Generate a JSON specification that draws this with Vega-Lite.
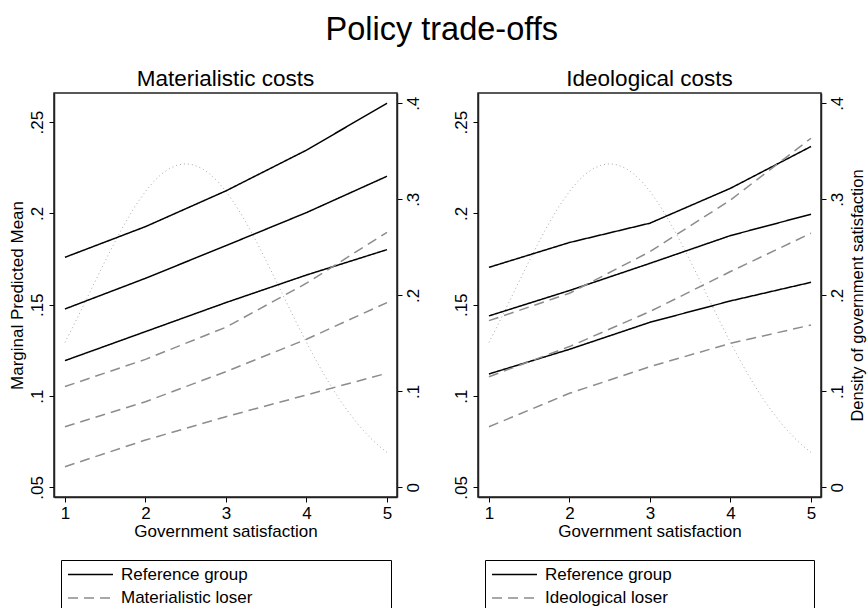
{
  "$schema": "https://vega.github.io/schema/vega-lite/v6.json",
  "padding": {"left": 7, "top": 14, "right": 0, "bottom": 0},
  "background": "white",
  "title": {"text": "Policy trade-offs", "fontSize": 32.5, "fontWeight": "normal", "font": "Liberation Sans", "color": "black", "anchor": "middle", "offset": 20, "dx": 5},
  "datasets": {
    "mat": [
      {"x": 1, "y": 0.176, "group": "Reference group", "bound": "upper"},
      {"x": 2, "y": 0.1928, "group": "Reference group", "bound": "upper"},
      {"x": 3, "y": 0.2124, "group": "Reference group", "bound": "upper"},
      {"x": 4, "y": 0.2347, "group": "Reference group", "bound": "upper"},
      {"x": 5, "y": 0.2604, "group": "Reference group", "bound": "upper"},
      {"x": 1, "y": 0.1477, "group": "Reference group", "bound": "mid"},
      {"x": 2, "y": 0.1645, "group": "Reference group", "bound": "mid"},
      {"x": 3, "y": 0.1824, "group": "Reference group", "bound": "mid"},
      {"x": 4, "y": 0.2005, "group": "Reference group", "bound": "mid"},
      {"x": 5, "y": 0.2204, "group": "Reference group", "bound": "mid"},
      {"x": 1, "y": 0.1194, "group": "Reference group", "bound": "lower"},
      {"x": 2, "y": 0.1353, "group": "Reference group", "bound": "lower"},
      {"x": 3, "y": 0.1512, "group": "Reference group", "bound": "lower"},
      {"x": 4, "y": 0.1663, "group": "Reference group", "bound": "lower"},
      {"x": 5, "y": 0.1802, "group": "Reference group", "bound": "lower"},
      {"x": 1, "y": 0.1052, "group": "Materialistic loser", "bound": "upper"},
      {"x": 2, "y": 0.1201, "group": "Materialistic loser", "bound": "upper"},
      {"x": 3, "y": 0.1377, "group": "Materialistic loser", "bound": "upper"},
      {"x": 4, "y": 0.1618, "group": "Materialistic loser", "bound": "upper"},
      {"x": 5, "y": 0.1897, "group": "Materialistic loser", "bound": "upper"},
      {"x": 1, "y": 0.0832, "group": "Materialistic loser", "bound": "mid"},
      {"x": 2, "y": 0.0969, "group": "Materialistic loser", "bound": "mid"},
      {"x": 3, "y": 0.1134, "group": "Materialistic loser", "bound": "mid"},
      {"x": 4, "y": 0.1311, "group": "Materialistic loser", "bound": "mid"},
      {"x": 5, "y": 0.1512, "group": "Materialistic loser", "bound": "mid"},
      {"x": 1, "y": 0.0613, "group": "Materialistic loser", "bound": "lower"},
      {"x": 2, "y": 0.0759, "group": "Materialistic loser", "bound": "lower"},
      {"x": 3, "y": 0.0887, "group": "Materialistic loser", "bound": "lower"},
      {"x": 4, "y": 0.1006, "group": "Materialistic loser", "bound": "lower"},
      {"x": 5, "y": 0.1125, "group": "Materialistic loser", "bound": "lower"}
    ],
    "ideo": [
      {"x": 1, "y": 0.1705, "group": "Reference group", "bound": "upper"},
      {"x": 2, "y": 0.1841, "group": "Reference group", "bound": "upper"},
      {"x": 3, "y": 0.1947, "group": "Reference group", "bound": "upper"},
      {"x": 4, "y": 0.2138, "group": "Reference group", "bound": "upper"},
      {"x": 5, "y": 0.2367, "group": "Reference group", "bound": "upper"},
      {"x": 1, "y": 0.1439, "group": "Reference group", "bound": "mid"},
      {"x": 2, "y": 0.1578, "group": "Reference group", "bound": "mid"},
      {"x": 3, "y": 0.1727, "group": "Reference group", "bound": "mid"},
      {"x": 4, "y": 0.1879, "group": "Reference group", "bound": "mid"},
      {"x": 5, "y": 0.1996, "group": "Reference group", "bound": "mid"},
      {"x": 1, "y": 0.1121, "group": "Reference group", "bound": "lower"},
      {"x": 2, "y": 0.1256, "group": "Reference group", "bound": "lower"},
      {"x": 3, "y": 0.1404, "group": "Reference group", "bound": "lower"},
      {"x": 4, "y": 0.1521, "group": "Reference group", "bound": "lower"},
      {"x": 5, "y": 0.1623, "group": "Reference group", "bound": "lower"},
      {"x": 1, "y": 0.1413, "group": "Ideological loser", "bound": "upper"},
      {"x": 2, "y": 0.1563, "group": "Ideological loser", "bound": "upper"},
      {"x": 3, "y": 0.1791, "group": "Ideological loser", "bound": "upper"},
      {"x": 4, "y": 0.2074, "group": "Ideological loser", "bound": "upper"},
      {"x": 5, "y": 0.2412, "group": "Ideological loser", "bound": "upper"},
      {"x": 1, "y": 0.1106, "group": "Ideological loser", "bound": "mid"},
      {"x": 2, "y": 0.1271, "group": "Ideological loser", "bound": "mid"},
      {"x": 3, "y": 0.1463, "group": "Ideological loser", "bound": "mid"},
      {"x": 4, "y": 0.1682, "group": "Ideological loser", "bound": "mid"},
      {"x": 5, "y": 0.1892, "group": "Ideological loser", "bound": "mid"},
      {"x": 1, "y": 0.0832, "group": "Ideological loser", "bound": "lower"},
      {"x": 2, "y": 0.1015, "group": "Ideological loser", "bound": "lower"},
      {"x": 3, "y": 0.1161, "group": "Ideological loser", "bound": "lower"},
      {"x": 4, "y": 0.1289, "group": "Ideological loser", "bound": "lower"},
      {"x": 5, "y": 0.1389, "group": "Ideological loser", "bound": "lower"}
    ],
    "dens": [
      {"x": 1.0, "d": 0.1509}, {"x": 1.1, "d": 0.1673}, {"x": 1.2, "d": 0.1843}, {"x": 1.3, "d": 0.2015},
      {"x": 1.4, "d": 0.2188}, {"x": 1.5, "d": 0.2358}, {"x": 1.6, "d": 0.2523}, {"x": 1.7, "d": 0.2682},
      {"x": 1.8, "d": 0.2829}, {"x": 1.9, "d": 0.2964}, {"x": 2.0, "d": 0.3082}, {"x": 2.1, "d": 0.3183},
      {"x": 2.2, "d": 0.3264}, {"x": 2.3, "d": 0.3322}, {"x": 2.4, "d": 0.3358}, {"x": 2.5, "d": 0.337},
      {"x": 2.6, "d": 0.3358}, {"x": 2.7, "d": 0.3322}, {"x": 2.8, "d": 0.3264}, {"x": 2.9, "d": 0.3183},
      {"x": 3.0, "d": 0.3082}, {"x": 3.1, "d": 0.2964}, {"x": 3.2, "d": 0.2829}, {"x": 3.3, "d": 0.2682},
      {"x": 3.4, "d": 0.2523}, {"x": 3.5, "d": 0.2358}, {"x": 3.6, "d": 0.2188}, {"x": 3.7, "d": 0.2015},
      {"x": 3.8, "d": 0.1843}, {"x": 3.9, "d": 0.1673}, {"x": 4.0, "d": 0.1509}, {"x": 4.1, "d": 0.1351},
      {"x": 4.2, "d": 0.1201}, {"x": 4.3, "d": 0.106}, {"x": 4.4, "d": 0.0928}, {"x": 4.5, "d": 0.0808},
      {"x": 4.6, "d": 0.0698}, {"x": 4.7, "d": 0.0598}, {"x": 4.8, "d": 0.0509}, {"x": 4.9, "d": 0.0431},
      {"x": 5.0, "d": 0.0362}
    ]
  },
  "hconcat": [
    {
      "width": 343,
      "height": 404,
      "title": {"text": "Materialistic costs"},
      "layer": [
        {
          "data": {"name": "dens"},
          "mark": {"type": "line", "color": "#a8a8a8", "strokeWidth": 1, "strokeDash": [1, 3]},
          "encoding": {
            "x": {"field": "x", "type": "quantitative", "scale": {"domain": [0.864, 5.124], "nice": false, "zero": false}, "axis": {"values": [1, 2, 3, 4, 5], "format": "d", "title": "Government satisfaction"}},
            "y": {"field": "d", "type": "quantitative", "scale": {"domain": [-0.0101, 0.4107], "nice": false, "zero": false}, "axis": {"orient": "right", "values": [0, 0.1, 0.2, 0.3, 0.4], "title": null, "labelExpr": "datum.value == 0 ? '0' : substring(format(datum.value, '~g'), 1)"}}
          }
        },
        {
          "data": {"name": "mat"},
          "mark": {"type": "line", "strokeWidth": 1.5},
          "encoding": {
            "x": {"field": "x", "type": "quantitative"},
            "y": {"field": "y", "type": "quantitative", "scale": {"domain": [0.0447, 0.266], "nice": false, "zero": false}, "axis": {"orient": "left", "values": [0.05, 0.1, 0.15, 0.2, 0.25], "title": "Marginal Predicted Mean", "labelExpr": "substring(format(datum.value, '~g'), 1)"}},
            "color": {"field": "group", "type": "nominal", "scale": {"domain": ["Reference group", "Materialistic loser"], "range": ["black", "#8c8c8c"]}, "legend": {"orient": "none", "legendX": 7, "legendY": 467, "title": "\u00a0", "titleOrient": "right", "titleFontSize": 1, "titlePadding": 133, "strokeColor": "black", "padding": 6, "symbolType": "M-3,0H3M0,-2", "symbolSize": 225, "symbolStrokeWidth": 1.5, "symbolOffset": 15, "labelOffset": 22, "labelLimit": 600, "rowPadding": -3.5}},
            "strokeDash": {"field": "group", "type": "nominal", "scale": {"domain": ["Reference group", "Materialistic loser"], "range": [[1, 0], [10, 6]]}, "legend": {"orient": "none", "legendX": 7, "legendY": 467, "title": "\u00a0", "titleOrient": "right", "titleFontSize": 1, "titlePadding": 133, "strokeColor": "black", "padding": 6, "symbolType": "M-3,0H3M0,-2", "symbolSize": 225, "symbolStrokeWidth": 1.5, "symbolOffset": 15, "labelOffset": 22, "labelLimit": 600, "rowPadding": -3.5}},
            "detail": {"field": "bound", "type": "nominal"}
          }
        }
      ],
      "resolve": {"scale": {"y": "independent"}}
    },
    {
      "width": 343,
      "height": 404,
      "title": {"text": "Ideological costs"},
      "layer": [
        {
          "data": {"name": "dens"},
          "mark": {"type": "line", "color": "#a8a8a8", "strokeWidth": 1, "strokeDash": [1, 3]},
          "encoding": {
            "x": {"field": "x", "type": "quantitative", "scale": {"domain": [0.864, 5.124], "nice": false, "zero": false}, "axis": {"values": [1, 2, 3, 4, 5], "format": "d", "title": "Government satisfaction"}},
            "y": {"field": "d", "type": "quantitative", "scale": {"domain": [-0.0101, 0.4107], "nice": false, "zero": false}, "axis": {"orient": "right", "values": [0, 0.1, 0.2, 0.3, 0.4], "title": "Density of government satisfaction", "titleAngle": 270, "titleBaseline": "top", "titleFontSize": 16.5, "titlePadding": 4, "labelExpr": "datum.value == 0 ? '0' : substring(format(datum.value, '~g'), 1)"}}
          }
        },
        {
          "data": {"name": "ideo"},
          "mark": {"type": "line", "strokeWidth": 1.5},
          "encoding": {
            "x": {"field": "x", "type": "quantitative"},
            "y": {"field": "y", "type": "quantitative", "scale": {"domain": [0.0447, 0.266], "nice": false, "zero": false}, "axis": {"orient": "left", "values": [0.05, 0.1, 0.15, 0.2, 0.25], "title": null, "labelExpr": "substring(format(datum.value, '~g'), 1)"}},
            "color": {"field": "group", "type": "nominal", "scale": {"domain": ["Reference group", "Ideological loser"], "range": ["black", "#8c8c8c"]}, "legend": {"orient": "none", "legendX": 7, "legendY": 467, "title": "\u00a0", "titleOrient": "right", "titleFontSize": 1, "titlePadding": 136, "strokeColor": "black", "padding": 6, "symbolType": "M-3,0H3M0,-2", "symbolSize": 225, "symbolStrokeWidth": 1.5, "symbolOffset": 15, "labelOffset": 22, "labelLimit": 600, "rowPadding": -3.5}},
            "strokeDash": {"field": "group", "type": "nominal", "scale": {"domain": ["Reference group", "Ideological loser"], "range": [[1, 0], [10, 6]]}, "legend": {"orient": "none", "legendX": 7, "legendY": 467, "title": "\u00a0", "titleOrient": "right", "titleFontSize": 1, "titlePadding": 136, "strokeColor": "black", "padding": 6, "symbolType": "M-3,0H3M0,-2", "symbolSize": 225, "symbolStrokeWidth": 1.5, "symbolOffset": 15, "labelOffset": 22, "labelLimit": 600, "rowPadding": -3.5}},
            "detail": {"field": "bound", "type": "nominal"}
          }
        }
      ],
      "resolve": {"scale": {"y": "independent"}}
    }
  ],
  "spacing": 29,
  "resolve": {"scale": {"color": "independent", "strokeDash": "independent"}, "legend": {"color": "independent", "strokeDash": "independent"}},
  "config": {
    "font": "Liberation Sans",
    "view": {"stroke": "#222", "strokeWidth": 1.5},
    "title": {"fontSize": 22.5, "fontWeight": "normal", "color": "black", "offset": 3},
    "axis": {"labelFontSize": 17, "titleFontSize": 17, "titleFontWeight": "normal", "labelColor": "black", "titleColor": "black", "domainColor": "#222", "domainWidth": 1.5, "tickColor": "black", "tickSize": 5, "grid": false, "labelPadding": 3, "titlePadding": 2},
    "axisY": {"labelAngle": -90},
    "legend": {"labelFontSize": 17, "labelColor": "black"}
  }
}
